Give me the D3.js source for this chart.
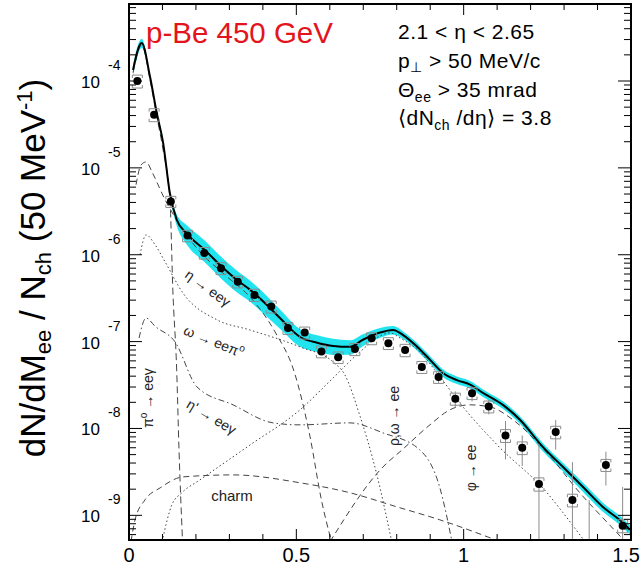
<!DOCTYPE html>
<html><head><meta charset="utf-8">
<script src="https://cdn.jsdelivr.net/npm/d3@7"></script>
<style>
body{margin:0;background:#fff}
svg{display:block}
text{font-family:"Liberation Sans",Arial,Helvetica,sans-serif}
</style>
</head><body>
<svg id="c" width="643" height="567"></svg>
<script>
// Measured dielectron yield, p-Be 450 GeV
const massBins = [0.025,0.075,0.125,0.175,0.225,0.275,0.325,0.375,0.425,0.475,0.525,0.575,0.625,0.675,0.725,0.775,0.825,0.875,0.925,0.975,1.025,1.075,1.125,1.175,1.225,1.275,1.325,1.375,1.425,1.475];
const yieldVals = [1.0e-4,4.1e-5,4.1e-6,1.66e-6,1.05e-6,7.0e-7,4.9e-7,3.45e-7,2.53e-7,1.43e-7,1.27e-7,7.7e-8,6.6e-8,8.2e-8,1.09e-7,9.6e-8,8.0e-8,5.1e-8,3.9e-8,2.2e-8,2.55e-8,1.79e-8,8.3e-9,6.0e-9,2.3e-9,9.1e-9,1.5e-9,1.0e-10,3.8e-9,7.6e-10];
const statErr = [1.5e-6,6e-7,1e-7,5e-8,3.5e-8,2.5e-8,2e-8,1.5e-8,1.2e-8,8e-9,8e-9,5e-9,5e-9,6e-9,8e-9,7.5e-9,6e-9,5e-9,5.5e-9,4.7e-9,5e-9,3.4e-9,3.9e-9,2.3e-9,4.4e-9,3.4e-9,2.6e-9,1.4e-9,1.6e-9,1.36e-9];
const systErr = [1.7e-5,7e-6,6e-7,2.5e-7,1.6e-7,1.1e-7,7.5e-8,5.5e-8,4e-8,2.2e-8,2e-8,1.2e-8,1e-8,1.3e-8,1.7e-8,1.5e-8,1.3e-8,8e-9,6e-9,3.5e-9,4e-9,2.8e-9,1.4e-9,1e-9,4e-10,1.5e-9,2.5e-10,2e-11,6e-10,1.3e-10];

// Hadron decay cocktail: total and its systematic band
const totalMass  = [0.012,0.038,0.063,0.083,0.102,0.122,0.143,0.172,0.227,0.272,0.322,0.362,0.412,0.451,0.511,0.562,0.610,0.660,0.699,0.750,0.789,0.819,0.860,0.899,0.938,0.980,1.019,1.058,1.117,1.168,1.237,1.297,1.356,1.416,1.476,1.497];
const totalYield = [1.34e-4,2.74e-4,1.11e-4,4.28e-5,1.94e-5,5.14e-6,2.51e-6,1.76e-6,1.13e-6,7.6e-7,5.13e-7,3.94e-7,2.64e-7,1.87e-7,1.13e-7,9.7e-8,8.9e-8,8.7e-8,1.05e-7,1.27e-7,1.36e-7,1.19e-7,8.8e-8,6.2e-8,4.36e-8,3.6e-8,3.2e-8,2.56e-8,1.87e-8,1.26e-8,6.1e-9,3.6e-9,2.13e-9,1.25e-9,8.2e-10,6.8e-10];
const bandRel    = [0.15,0.12,0.08,0.08,0.08,0.09,0.15,0.25,0.28,0.28,0.28,0.27,0.27,0.25,0.23,0.22,0.21,0.19,0.16,0.13,0.11,0.10,0.10,0.10,0.10,0.10,0.10,0.10,0.10,0.10,0.11,0.11,0.12,0.12,0.12,0.12];

// Individual cocktail sources [mass, yield]
const pi0Dalitz = [[0.012,1.25e-4],[0.038,2.6e-4],[0.063,1.02e-4],[0.083,3.9e-5],[0.102,1.6e-5],[0.1225,4.2e-6],[0.131,3.9e-7],[0.1425,4.7e-8],[0.1494,5.7e-9],[0.160,5.0e-10]];
const etaDalitz = [[0.021,6.4e-6],[0.036,1.08e-5],[0.051,1.17e-5],[0.069,8.97e-6],[0.087,6.36e-6],[0.108,4.27e-6],[0.128,3.11e-6],[0.152,2.2e-6],[0.212,1.08e-6],[0.287,5.86e-7],[0.370,3.0e-7],[0.436,1.3e-7],[0.496,4.2e-8],[0.541,8.0e-9],[0.575,1.5e-9],[0.605,5.0e-10]];
const omegaDalitz = [[0.033,1.0e-6],[0.051,1.69e-6],[0.078,1.3e-6],[0.108,8.26e-7],[0.161,3.63e-7],[0.263,1.78e-7],[0.362,1.36e-7],[0.511,8.69e-8],[0.610,5.83e-8],[0.645,4.14e-8],[0.690,1.4e-8],[0.740,3.0e-9],[0.785,5.0e-10]];
const etapDalitz = [[0.030,1.1e-7],[0.051,1.87e-7],[0.078,1.5e-7],[0.137,1.0e-7],[0.203,3.01e-8],[0.311,1.87e-8],[0.430,1.16e-8],[0.511,1.10e-8],[0.660,1.16e-8],[0.759,8.9e-9],[0.869,5.67e-9],[0.929,2.07e-9],[0.965,5.0e-10]];
const rhoOmega = [[0.099,5.0e-10],[0.128,1.32e-9],[0.158,1.82e-9],[0.212,2.56e-9],[0.362,6.47e-9],[0.511,1.64e-8],[0.610,3.82e-8],[0.690,7.61e-8],[0.750,1.16e-7],[0.780,1.26e-7],[0.810,1.10e-7],[0.869,7.61e-8],[0.929,3.93e-8],[0.998,1.77e-8],[1.100,6.47e-9],[1.249,1.82e-9],[1.297,1.07e-9],[1.362,5.0e-10]];
const phiMeson = [[0.601,5.0e-10],[0.759,3.61e-9],[0.816,5.67e-9],[0.899,1.10e-8],[0.959,1.64e-8],[1.019,1.87e-8],[1.079,1.77e-8],[1.147,1.26e-8],[1.249,5.24e-9],[1.347,1.82e-9],[1.458,6.3e-10],[1.482,5.0e-10]];
const charm = [[0.006,5.0e-10],[0.018,8.87e-10],[0.048,1.51e-9],[0.093,2.07e-9],[0.161,2.77e-9],[0.311,2.92e-9],[0.511,2.37e-9],[0.660,1.82e-9],[0.801,1.25e-9],[0.929,8.87e-10],[1.108,5.0e-10]];

const xTickLabels = ["0","0.5","1","1.5"];
const xTickVals = [0,0.5,1,1.5];
const yDecades = [-9,-8,-7,-6,-5,-4];

const L = 129, R = 631, T = 4, B = 540;
const svg = d3.select("#c");
const x = d3.scaleLinear().domain([0,1.5]).range([L,R]);
const y = d3.scaleLog().domain([5.2e-10,7.7e-4]).range([B,T]);

svg.append("defs").append("clipPath").attr("id","plot")
  .append("rect").attr("x",L).attr("y",T).attr("width",R-L).attr("height",B-T);
const g = svg.append("g").attr("clip-path","url(#plot)");

// Systematic band of the cocktail
const band = d3.area()
  .x((d,i)=>x(totalMass[i]))
  .y0((d,i)=>y(totalYield[i]*(1-bandRel[i])))
  .y1((d,i)=>y(totalYield[i]*(1+bandRel[i])))
  .curve(d3.curveMonotoneX);
g.append("path").datum(totalMass).attr("d",band).attr("fill","#22e4ee");

// Source curves
const line = d3.line().x(d=>x(d[0])).y(d=>y(d[1])).curve(d3.curveMonotoneX);
const comps = [
  [pi0Dalitz,"7,4"],[etaDalitz,"6,4"],[omegaDalitz,"1.5,2.5"],[etapDalitz,"6,3,1.5,3"],
  [rhoOmega,"1.5,2.5"],[phiMeson,"6,4"],[charm,"6,4"]
];
comps.forEach(([pts,dash])=>{
  g.append("path").datum(pts).attr("d",line).attr("fill","none")
   .attr("stroke","#444").attr("stroke-width",1).attr("stroke-dasharray",dash);
});

// Total cocktail
const totalLine = d3.line().x((d,i)=>x(totalMass[i])).y((d,i)=>y(totalYield[i])).curve(d3.curveMonotoneX);
g.append("path").datum(totalMass).attr("d",totalLine).attr("fill","none")
  .attr("stroke","#000").attr("stroke-width",2);

// Data: statistical bars, systematic brackets, markers
massBins.forEach((m,i)=>{
  const v = yieldVals[i], cx = x(m);
  g.append("line").attr("x1",cx).attr("x2",cx)
    .attr("y1",y(v+statErr[i])).attr("y2",y(Math.max(v-statErr[i],1e-12)))
    .attr("stroke","#8c8c8c").attr("stroke-width",1);
  const yt = y(v+systErr[i]), yb = y(v-systErr[i]);
  g.append("path").attr("d",`M${cx-5},${yt+3}V${yt}H${cx+5}V${yt+3}M${cx-5},${yb-3}V${yb}H${cx+5}V${yb-3}`)
    .attr("fill","none").attr("stroke","#8c8c8c").attr("stroke-width",1);
  g.append("circle").attr("cx",cx).attr("cy",y(v)).attr("r",4).attr("fill","#000");
});

// Frame and ticks
svg.append("rect").attr("x",L).attr("y",T).attr("width",R-L).attr("height",B-T)
  .attr("fill","none").attr("stroke","#000").attr("stroke-width",2);
const xMinor = d3.range(0,16).map(k=>k/10);
xMinor.forEach(v=>{
  const major = xTickVals.includes(v);
  const len = major ? 11 : 6;
  svg.append("line").attr("x1",x(v)).attr("x2",x(v)).attr("y1",B).attr("y2",B-len).attr("stroke","#000");
  svg.append("line").attr("x1",x(v)).attr("x2",x(v)).attr("y1",T).attr("y2",T+len).attr("stroke","#000");
});
const yMinor = [];
for (let e=-10;e<=-4;e++) for (let k=1;k<=9;k++){ const v=k*Math.pow(10,e); if(v>=5.2e-10&&v<=7.7e-4) yMinor.push([v,k]); }
yMinor.forEach(([v,k])=>{
  const len = k===1 ? 13 : 7;
  svg.append("line").attr("x1",L).attr("x2",L+len).attr("y1",y(v)).attr("y2",y(v)).attr("stroke","#000");
  svg.append("line").attr("x1",R).attr("x2",R-len).attr("y1",y(v)).attr("y2",y(v)).attr("stroke","#000");
});

// Axis labels
xTickVals.forEach((v,i)=>{
  const last = i === xTickVals.length-1;
  svg.append("text").attr("x",last ? 640 : x(v)).attr("y",562)
    .attr("text-anchor",last ? "end" : "middle")
    .attr("font-size",20).text(xTickLabels[i]);
});
yDecades.forEach(e=>{
  const yy = y(Math.pow(10,e));
  svg.append("text").attr("x",100).attr("y",yy+7).attr("text-anchor","end").attr("font-size",17).text("10");
  svg.append("text").attr("x",108).attr("y",yy-11).attr("font-size",14).text("-"+(-e));
});

// Y title
const yt = svg.append("text").attr("transform","translate(45,268) rotate(-90)")
  .attr("text-anchor","middle").attr("font-size",35);
yt.append("tspan").text("dN/dM");
yt.append("tspan").attr("font-size",22).attr("dy",6).text("ee");
yt.append("tspan").attr("dy",-6).text(" / N");
yt.append("tspan").attr("font-size",22).attr("dy",6).text("ch");
yt.append("tspan").attr("dy",-6).text(" (50 MeV");
yt.append("tspan").attr("font-size",22).attr("dy",-13).text("-1");
yt.append("tspan").attr("dy",13).text(")");

// Title and cuts
svg.append("text").attr("x",146).attr("y",43).attr("font-size",29.5).attr("fill","#e3141b").text("p-Be 450 GeV");
const info = svg.append("g").attr("font-size",21).attr("letter-spacing",0.5);
const l1 = info.append("text").attr("x",398).attr("y",39); l1.text("2.1 < \u03b7 < 2.65");
const l2 = info.append("text").attr("x",398).attr("y",68);
l2.append("tspan").text("p"); l2.append("tspan").attr("font-size",14).attr("dy",4).text("\u22a5");
l2.append("tspan").attr("dy",-4).text(" > 50 MeV/c");
const l3 = info.append("text").attr("x",398).attr("y",97);
l3.append("tspan").text("\u0398"); l3.append("tspan").attr("font-size",14).attr("dy",5).text("ee");
l3.append("tspan").attr("dy",-5).text(" > 35 mrad");
const l4 = info.append("text").attr("x",398).attr("y",125);
l4.append("tspan").text("\u27e8dN"); l4.append("tspan").attr("font-size",14).attr("dy",5).text("ch");
l4.append("tspan").attr("dy",-5).text(" /d\u03b7\u27e9 = 3.8");

// Source labels
const lab = (tx,ty,rot,parts)=>{
  const t = svg.append("text").attr("transform",`translate(${tx},${ty}) rotate(${rot})`)
    .attr("text-anchor","middle").attr("font-size",14).attr("fill","#222");
  parts.forEach(p=>{ const s=t.append("tspan").text(p[0]); if(p[1]) s.attr("dy",p[1]).attr("font-size",p[2]); });
};
lab(205,292,36,[["\u03b7 \u2192 ee\u03b3"]]);
lab(212,346,22,[["\u03c9 \u2192 ee\u03c0"],["o",-6,10]]);
lab(209,421,31,[["\u03b7' \u2192 ee\u03b3"]]);
lab(153,398,-90,[["\u03c0"],["o",-6,10],[" \u2192 ee\u03b3",6,14]]);
lab(399,416,-90,[["\u03c1,\u03c9 \u2192 ee"]]);
lab(476,468,-90,[["\u03c6 \u2192 ee"]]);
svg.append("text").attr("x",232).attr("y",501).attr("text-anchor","middle").attr("font-size",15).attr("fill","#222").text("charm");
</script>
</body></html>
